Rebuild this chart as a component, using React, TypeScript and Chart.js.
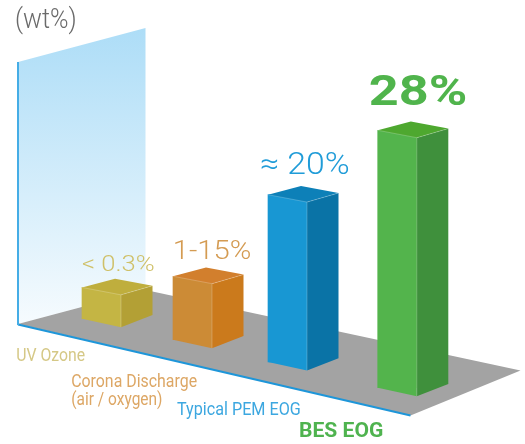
import React, { useEffect, useRef } from "react";
import { Chart, registerables } from "chart.js";

Chart.register(...registerables);

const categories = ["UV Ozone", "Corona Discharge\n(air / oxygen)", "Typical PEM EOG", "BES EOG"];
// Drawn bar heights as read against the wt% wall (the source is not to scale)
const barHeights = [3.4, 6.9, 18.2, 28.0];
const valueLabels = ["< 0.3%", "1-15%", "≈ 20%", "28%"];
const axisLabel = "(wt%)";
const axisMax = 28.5;

const FRONT = ["#C4B544", "#CC8B36", "#1897D3", "#53B44C"];
const SIDE = ["#B3A035", "#CB7A1C", "#0A73A6", "#3F903C"];
const TOP = ["#BFAE3D", "#D27F2D", "#0D80B8", "#4EA82F"];
const VALUE_COLORS = ["#CFC068", "#D49B52", "#209CD8", "#50B44C"];
const CAT_COLORS = ["#D5C886", "#DDA765", "#3CA7E0", "#4FB34F"];

// Perspective layout: where each bar stands on the floor
const SHIFT_X = [34.5, 27.5, 24.5, 36.3];
const SHIFT_Y = [-5.3, 15.7, 38, 63.7];

const VALUE_STYLE = [
  { font: "300 22.5px Roboto", x: 82, y: 271, w: 72 },
  { font: "300 26px Roboto", x: 175, y: 259, w: 75 },
  { font: "300 30.5px Roboto", x: 261, y: 174, w: 88 },
  { font: "700 42px Roboto", x: 370, y: 105, w: 96 },
];
const CAT_STYLE = [
  { font: "400 19px Roboto", x: 17, y: 361, w: [68] },
  { font: "400 19px Roboto", x: 72, y: 387, w: [125, 90], lh: 18 },
  { font: "400 19px Roboto", x: 177, y: 415, w: [123] },
  { font: "700 21px Roboto", x: 300, y: 437, w: [83] },
];

function poly(ctx: CanvasRenderingContext2D, pts: number[][], fill: any) {
  ctx.beginPath();
  pts.forEach((p, i) => (i ? ctx.lineTo(p[0], p[1]) : ctx.moveTo(p[0], p[1])));
  ctx.closePath();
  ctx.fillStyle = fill;
  ctx.fill();
}

// Draw text so that its ink spans exactly `w` pixels from `x`
function fitText(ctx: CanvasRenderingContext2D, s: string, x: number, y: number, w: number) {
  const m = ctx.measureText(s);
  const ink = m.actualBoundingBoxLeft + m.actualBoundingBoxRight;
  const k = w / ink;
  ctx.save();
  ctx.translate(x + m.actualBoundingBoxLeft * k, y);
  ctx.scale(k, 1);
  ctx.fillText(s, 0, 0);
  ctx.restore();
}

const scenePlugin = {
  id: "scene",
  afterDatasetsUpdate(chart: any) {
    chart.getDatasetMeta(0).data.forEach((el: any, i: number) => {
      el.x += SHIFT_X[i];
      el.y += SHIFT_Y[i];
      el.base += SHIFT_Y[i];
    });
  },
  beforeDraw(chart: any) {
    const { ctx, chartArea: a } = chart;
    const L = a.left, B = a.bottom, T = a.top;
    ctx.save();
    const g = ctx.createLinearGradient(0, 28, 0, B);
    g.addColorStop(0, "#ADDDF7");
    g.addColorStop(1, "#F6FBFE");
    poly(ctx, [[L, T], [L + 127.5, T - 34], [L + 127.5, B - 34], [L, B]], g);
    poly(ctx, [[L, B], [L + 127.5, B - 34], [520.5, 370.5], [410.5, 415.5]], "#A3A3A3");
    ctx.strokeStyle = "#1E96D9";
    ctx.lineWidth = 2;
    ctx.beginPath();
    ctx.moveTo(L, B + 0.5);
    ctx.lineTo(410.5, 415.5);
    ctx.stroke();
    ctx.strokeStyle = "#45ADE6";
    ctx.beginPath();
    ctx.moveTo(L, T);
    ctx.lineTo(L, B + 1);
    ctx.stroke();
    ctx.restore();
  },
  afterDatasetsDraw(chart: any) {
    const { ctx } = chart;
    ctx.save();
    chart.getDatasetMeta(0).data.forEach((el: any, i: number) => {
      const x = el.x - el.width / 2;
      const t = el.y;
      const b = el.base;
      const w = el.width;
      const fTop = [x + w, t + 7.4];
      const fBot = [x + w, b + 8.5];
      const rTop = [x + 70.5, t - 1.7];
      const rBot = [x + 70.5, b - 3.7];
      poly(ctx, [[x, t], fTop, fBot, [x, b]], FRONT[i]);
      poly(ctx, [fTop, rTop, rBot, fBot], SIDE[i]);
      poly(ctx, [[x, t], fTop, rTop, [x + 33, t - 8.8]], TOP[i]);
      ctx.strokeStyle = "rgba(255,255,255,0.28)";
      ctx.lineWidth = 0.8;
      ctx.beginPath();
      ctx.moveTo(x, t);
      ctx.lineTo(fTop[0], fTop[1]);
      ctx.lineTo(rTop[0], rTop[1]);
      ctx.moveTo(fTop[0], fTop[1]);
      ctx.lineTo(fBot[0], fBot[1]);
      ctx.stroke();
    });
    ctx.textBaseline = "alphabetic";
    ctx.textAlign = "left";
    ctx.fillStyle = "#6A6A6A";
    ctx.font = "300 27px Roboto";
    fitText(ctx, axisLabel, 16, 28, 59);
    valueLabels.forEach((s, i) => {
      const st = VALUE_STYLE[i];
      ctx.font = st.font;
      ctx.fillStyle = VALUE_COLORS[i];
      fitText(ctx, s, st.x, st.y, st.w);
    });
    categories.forEach((s, i) => {
      const st = CAT_STYLE[i];
      ctx.font = st.font;
      ctx.fillStyle = CAT_COLORS[i];
      s.split("\n").forEach((line, j) => {
        fitText(ctx, line, st.x, st.y + j * (st.lh || 0), st.w[j]);
      });
    });
    ctx.restore();
  },
};

export default function App() {
  const ref = useRef<HTMLCanvasElement>(null);
  useEffect(() => {
    const chart = new Chart(ref.current!, {
      type: "bar",
      data: {
        labels: categories,
        datasets: [
          {
            data: barHeights,
            backgroundColor: FRONT,
            borderWidth: 0,
            barThickness: 39,
            clip: false,
          } as any,
        ],
      },
      options: {
        animation: false,
        responsive: false,
        layout: { padding: { left: 18, right: 115, top: 62, bottom: 120 } },
        plugins: { legend: { display: false }, tooltip: { enabled: false } },
        scales: {
          x: { display: false },
          y: { display: false, min: 0, max: axisMax },
        },
      },
      plugins: [scenePlugin],
    });
    return () => chart.destroy();
  }, []);
  return (
    <div style={{ position: "absolute", left: 0, top: 0, width: 525, height: 444, background: "#fff" }}>
      <canvas ref={ref} width={525} height={444} style={{ display: "block" }} />
    </div>
  );
}
